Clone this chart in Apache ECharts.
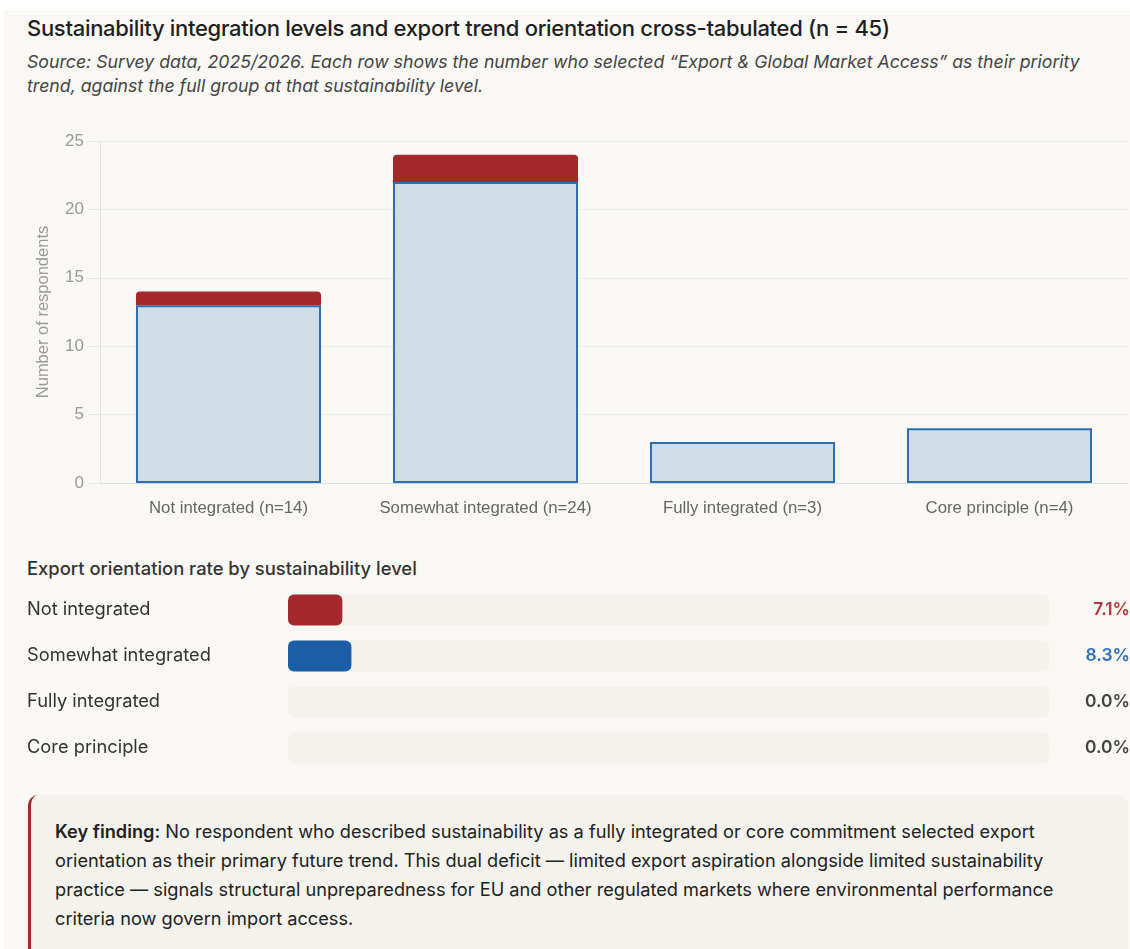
<!DOCTYPE html>
<html>
<head>
<meta charset="utf-8">
<script src="https://cdn.jsdelivr.net/npm/echarts@6/dist/echarts.min.js"></script>
<style>
  html, body { margin:0; padding:0; background:#ffffff; width:1130px; height:949px; overflow:hidden; }
  #panel { position:absolute; left:4px; top:10px; width:1126px; height:939px; background:#f9f8f4; }
  .t { position:absolute; font-family:"Inter","Noto Sans",sans-serif; color:#222; white-space:nowrap; }
  #title { left:27px; top:14px; font-size:22px; line-height:28px; font-weight:500; color:#1f1f1f; letter-spacing:-0.3px; }
  #sub { left:27px; top:50px; font-size:17.7px; font-style:italic; color:#444; line-height:23.5px; letter-spacing:0px; }
  #sec { left:27px; top:557px; font-size:18.4px; line-height:22px; font-weight:500; color:#333; letter-spacing:0px; }
  #chart { position:absolute; left:0; top:120px; width:1130px; height:660px; }
  #key { position:absolute; left:28px; top:795px; width:1100px; height:170px; background:#f3f2ec;
         border-left:3px solid #a3292d; border-radius:10px; box-sizing:border-box; }
  #keytext { position:absolute; left:24px; top:21.5px; font-family:"Inter","Noto Sans",sans-serif; font-size:18.2px;
         line-height:29px; color:#222; white-space:nowrap; letter-spacing:0px; }
</style>
</head>
<body>
<div id="panel"></div>
<div class="t" id="title">Sustainability integration levels and export trend orientation cross-tabulated (n = 45)</div>
<div class="t" id="sub">Source: Survey data, 2025/2026. Each row shows the number who selected “Export &amp; Global Market Access” as their priority<br>trend, against the full group at that sustainability level.</div>
<div class="t" id="sec">Export orientation rate by sustainability level</div>
<div id="chart"></div>
<div id="key"><div id="keytext"><b style="font-weight:600">Key finding:</b> No respondent who described sustainability as a fully integrated or core commitment selected export<br>orientation as their primary future trend. This dual deficit — limited export aspiration alongside limited sustainability<br>practice — signals structural unpreparedness for EU and other regulated markets where environmental performance<br>criteria now govern import access.</div></div>
<script>
// ---- data ----
const levels = ['Not integrated', 'Somewhat integrated', 'Fully integrated', 'Core principle'];
const groupTotals = [14, 24, 3, 4];
const exportCounts = [1, 2, 0, 0];
const otherCounts = [13, 22, 3, 4];
const yTicks = { min: 0, max: 25, interval: 5 };
const rateColors = ['#b03a3a', '#2f6fb7', '#444444', '#444444'];
const rateBarColors = ['#a3292d', '#1c5ea6', '#a3292d', '#1c5ea6'];

const catLabels = levels.map((l, i) => l + ' (n=' + groupTotals[i] + ')');
const rates = exportCounts.map((e, i) => e / groupTotals[i] * 100);

const chart = echarts.init(document.getElementById('chart'), null, { renderer: 'canvas' });
const chartFont = 'Liberation Sans, Arial, sans-serif';
const uiFont = 'Inter, Noto Sans, sans-serif';

const rich = {};
rateColors.forEach((c, i) => { rich['c' + i] = { color: c, fontSize: 17.4, fontWeight: 600, fontFamily: uiFont }; });

chart.setOption({
  animation: false,
  backgroundColor: 'transparent',
  grid: [
    { left: 100, top: 21, width: 1028, height: 342, outerBoundsMode: 'none', containLabel: false },
    { left: 288, top: 467, width: 761, height: 184, outerBoundsMode: 'none', containLabel: false }
  ],
  xAxis: [
    {
      gridIndex: 0, type: 'category', data: catLabels,
      axisLine: { show: true, lineStyle: { color: '#dcdcdc', width: 1 } },
      axisTick: { show: false },
      axisLabel: { color: '#666', fontSize: 16.8, fontFamily: chartFont, margin: 17, interval: 0 },
      splitLine: { show: false }
    },
    {
      gridIndex: 1, type: 'value', min: 0, max: 100, show: false
    }
  ],
  yAxis: [
    {
      gridIndex: 0, type: 'value', min: yTicks.min, max: yTicks.max, interval: yTicks.interval,
      name: 'Number of respondents', nameLocation: 'middle', nameGap: 48,
      nameTextStyle: { color: '#999', fontSize: 16.5, fontFamily: chartFont },
      axisLine: { show: true, lineStyle: { color: '#e3e3e3', width: 1 } },
      axisTick: { show: true, length: 12, lineStyle: { color: '#e8e8e8' } },
      axisLabel: { color: '#999', fontSize: 17, fontFamily: chartFont, margin: 16 },
      splitLine: { show: true, lineStyle: { color: '#ebebe8', width: 1 } }
    },
    {
      gridIndex: 1, type: 'category', data: levels, inverse: true,
      axisLine: { show: false }, axisTick: { show: false }, splitLine: { show: false },
      axisLabel: { color: '#333', fontSize: 18.3, fontFamily: uiFont, align: 'left', margin: 261 }
    },
    {
      gridIndex: 1, type: 'category', data: rates.map(r => r.toFixed(1) + '%'), inverse: true, position: 'right',
      axisLine: { show: false }, axisTick: { show: false }, splitLine: { show: false },
      axisLabel: {
        align: 'right', margin: 81,
        formatter: (v, i) => '{c' + i + '|' + v + '}', rich: rich
      }
    }
  ],
  series: [
    {
      name: 'Other trend', type: 'bar', stack: 'n', xAxisIndex: 0, yAxisIndex: 0,
      data: otherCounts, barWidth: '72%',
      itemStyle: { color: '#d0dde7', borderColor: '#2f6db3', borderWidth: 2 }
    },
    {
      name: 'Export & Global Market Access', type: 'bar', stack: 'n', xAxisIndex: 0, yAxisIndex: 0,
      data: exportCounts, barWidth: '72%',
      itemStyle: { color: '#a3292d', borderRadius: [4, 4, 0, 0] }
    },
    {
      name: 'Export rate', type: 'bar', xAxisIndex: 1, yAxisIndex: 1,
      data: rates.map((r, i) => ({ value: r, itemStyle: { color: rateBarColors[i] } })),
      barWidth: 31,
      itemStyle: { borderRadius: 6 },
      showBackground: true,
      backgroundStyle: { color: '#f3f2ec', borderRadius: 6 }
    }
  ]
});
</script>
</body>
</html>
